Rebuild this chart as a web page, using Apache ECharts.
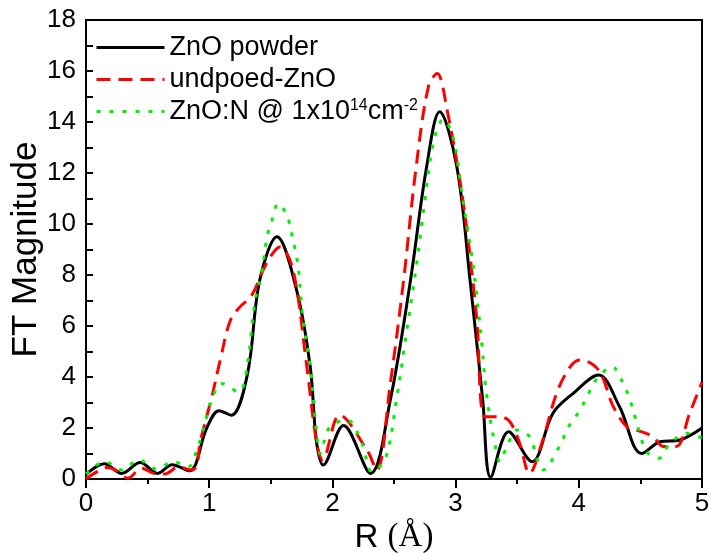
<!DOCTYPE html>
<html>
<head>
<meta charset="utf-8">
<script src="https://cdn.jsdelivr.net/npm/echarts@6/dist/echarts.min.js"></script>
<style>
html,body{margin:0;padding:0;background:#fff;}
#chart{width:709px;height:553px;}
</style>
</head>
<body>
<div id="chart"></div>
<script>
// Series names
const seriesNames = ['ZnO powder', 'undpoed-ZnO', 'ZnO:N @ 1x10^14cm^-2'];

// ZnO powder  [R, FT magnitude]
const znoPowder = [
  [0,0.18],[0.15,0.6],[0.29,0.22],[0.44,0.65],[0.58,0.22],[0.70,0.56],[0.84,0.32],
  [0.98,2.0],[1.08,2.68],[1.18,2.5],[1.31,4.1],[1.41,7.8],[1.55,9.5],[1.71,7.4],
  [1.82,4.4],[1.87,1.5],[1.925,0.55],[2.09,2.1],[2.31,0.22],[2.47,3.1],[2.63,7.67],
  [2.765,12.25],[2.87,14.4],[3.01,12.25],[3.12,7.67],[3.22,3.1],[3.285,0.07],
  [3.43,1.85],[3.62,0.68],[3.79,2.58],[3.955,3.36],[4.16,4.08],[4.33,2.84],
  [4.51,1.0],[4.66,1.46],[4.82,1.53],[5.0,2.0]
];

// undoped ZnO
const undopedZnO = [
  [0,0.0],[0.06,0.2],[0.17,0.45],[0.26,0.3],[0.34,0.03],[0.45,0.42],[0.57,0.2],
  [0.64,0.2],[0.75,0.47],[0.86,0.35],[0.9,0.55],[0.925,1.4],[1.02,3.2],[1.09,4.67],
  [1.17,6.2],[1.25,6.75],[1.345,7.2],[1.47,8.5],[1.575,9.1],[1.68,8.2],[1.79,4.5],
  [1.87,1.5],[1.92,0.75],[2.06,2.5],[2.28,1.14],[2.36,0.35],[2.47,3.75],[2.575,7.67],
  [2.68,12.25],[2.78,15.4],[2.85,15.9],[2.93,14.5],[3.06,10.9],[3.17,6.4],[3.24,2.44],
  [3.36,2.44],[3.44,2.25],[3.52,1.4],[3.60,0.22],[3.70,1.4],[3.82,3.36],[3.93,4.4],
  [4.01,4.67],[4.16,4.27],[4.28,2.84],[4.39,2.05],[4.47,1.92],[4.60,1.66],[4.69,1.27],
  [4.79,1.27],[4.90,2.58],[5.0,3.8]
];

// ZnO:N @ 1x10^14 cm^-2
const znoN = [
  [0,0.2],[0.155,0.68],[0.29,0.35],[0.43,0.75],[0.57,0.39],[0.71,0.68],[0.83,0.48],
  [0.9,1.14],[0.98,2.44],[1.02,3.1],[1.10,3.75],[1.24,3.42],[1.30,4.14],[1.37,6.9],
  [1.43,8.2],[1.47,9.5],[1.51,10.15],[1.56,10.8],[1.63,10.35],[1.67,9.6],[1.72,8.4],
  [1.76,6.3],[1.82,4.4],[1.87,1.92],[1.90,1.0],[1.98,2.05],[2.12,2.3],[2.24,1.4],
  [2.32,0.29],[2.43,0.8],[2.52,3.1],[2.60,5.7],[2.68,8.3],[2.75,10.9],[2.82,13.2],
  [2.90,14.1],[2.98,13.4],[3.06,10.9],[3.14,8.45],[3.21,5.45],[3.25,3.36],[3.32,1.33],
  [3.36,0.68],[3.41,1.2],[3.50,1.92],[3.60,1.66],[3.71,0.35],[3.85,1.33],[3.91,2.0],
  [4.01,2.7],[4.08,3.36],[4.15,3.95],[4.27,4.4],[4.36,3.75],[4.42,3.03],[4.46,2.38],
  [4.50,1.73],[4.55,1.07],[4.65,0.81],[4.74,1.4],[4.88,1.79],[5.0,1.6]
];

const xTicks = [0, 1, 2, 3, 4, 5];
const yTicks = [0, 2, 4, 6, 8, 10, 12, 14, 16, 18];

const chart = echarts.init(document.getElementById('chart'), null, {renderer: 'canvas'});
const FONT = 'Liberation Sans';
const GREEN = '#00f000';

const option = {
  backgroundColor: '#fff',
  animation: false,
  grid: {
    left: 86, right: 7, top: 20, bottom: 74,
    outerBoundsMode: 'none',
    containLabel: false,
    show: true, borderColor: '#000', borderWidth: 2
  },
  legend: {
    show: true,
    orient: 'vertical',
    left: 90, top: 29,
    itemWidth: 68, itemHeight: 14,
    itemGap: 5,
    data: seriesNames,
    itemStyle: {opacity: 0},
    lineStyle: {width: 3},
    textStyle: {
      fontFamily: FONT, fontSize: 27, color: '#000', lineHeight: 27,
      rich: {
        a: {fontFamily: FONT, fontSize: 27, color: '#000', lineHeight: 27},
        s: {fontFamily: FONT, fontSize: 16, color: '#000', lineHeight: 16, verticalAlign: 'top', padding: [0,0,14,0]}
      }
    },
    formatter: function (name) {
      if (name === seriesNames[2]) {
        return '{a|ZnO:N @ 1x10}{s|14}{a|cm}{s|-2}';
      }
      return name;
    }
  },
  xAxis: {
    type: 'value',
    min: 0, max: 5, interval: 1,
    name: '{r|R }{p|(Å)}',
    nameLocation: 'middle',
    nameGap: 42,
    nameMoveOverlap: false,
    nameTextStyle: {
      rich: {
        r: {fontFamily: FONT, fontSize: 33, color: '#000'},
        p: {fontFamily: 'Liberation Serif', fontSize: 33, color: '#000'}
      }
    },
    axisLine: {show: true, onZero: false, lineStyle: {color: '#000', width: 2}},
    axisTick: {show: true, inside: false, length: 9, lineStyle: {color: '#000', width: 2}},
    minorTick: {show: true, splitNumber: 2, length: 5, lineStyle: {color: '#000', width: 2}},
    axisLabel: {
      fontFamily: FONT, fontSize: 26, color: '#000', margin: 12,
      formatter: function (v) { return xTicks.indexOf(v) >= 0 ? String(v) : ''; }
    },
    splitLine: {show: false}
  },
  yAxis: {
    type: 'value',
    min: 0, max: 18, interval: 2,
    name: 'FT Magnitude',
    nameLocation: 'middle',
    nameGap: 42,
    nameMoveOverlap: false,
    nameTextStyle: {fontFamily: FONT, fontSize: 35, color: '#000'},
    axisLine: {show: true, onZero: false, lineStyle: {color: '#000', width: 2}},
    axisTick: {show: true, inside: true, length: 7, lineStyle: {color: '#000', width: 2}},
    minorTick: {show: true, splitNumber: 2, length: 7, lineStyle: {color: '#000', width: 2}},
    axisLabel: {
      fontFamily: FONT, fontSize: 26, color: '#000', margin: 10,
      formatter: function (v) { return yTicks.indexOf(v) >= 0 ? String(v) : ''; }
    },
    splitLine: {show: false}
  },
  series: [
    {
      name: seriesNames[0], type: 'line', data: znoPowder,
      smooth: 0.35, symbol: 'none', clip: true,
      lineStyle: {color: '#000000', width: 3, type: 'solid'},
      itemStyle: {color: '#000000'}
    },
    {
      name: seriesNames[1], type: 'line', data: undopedZnO,
      smooth: 0.35, symbol: 'none', clip: true,
      lineStyle: {color: '#ff0000', width: 3, type: [14, 8]},
      itemStyle: {color: '#ff0000'}
    },
    {
      name: seriesNames[2], type: 'line', data: znoN,
      smooth: 0.35, symbol: 'none', clip: true,
      lineStyle: {color: GREEN, width: 3, type: [4, 9]},
      itemStyle: {color: GREEN}
    }
  ]
};
chart.setOption(option);
</script>
</body>
</html>
